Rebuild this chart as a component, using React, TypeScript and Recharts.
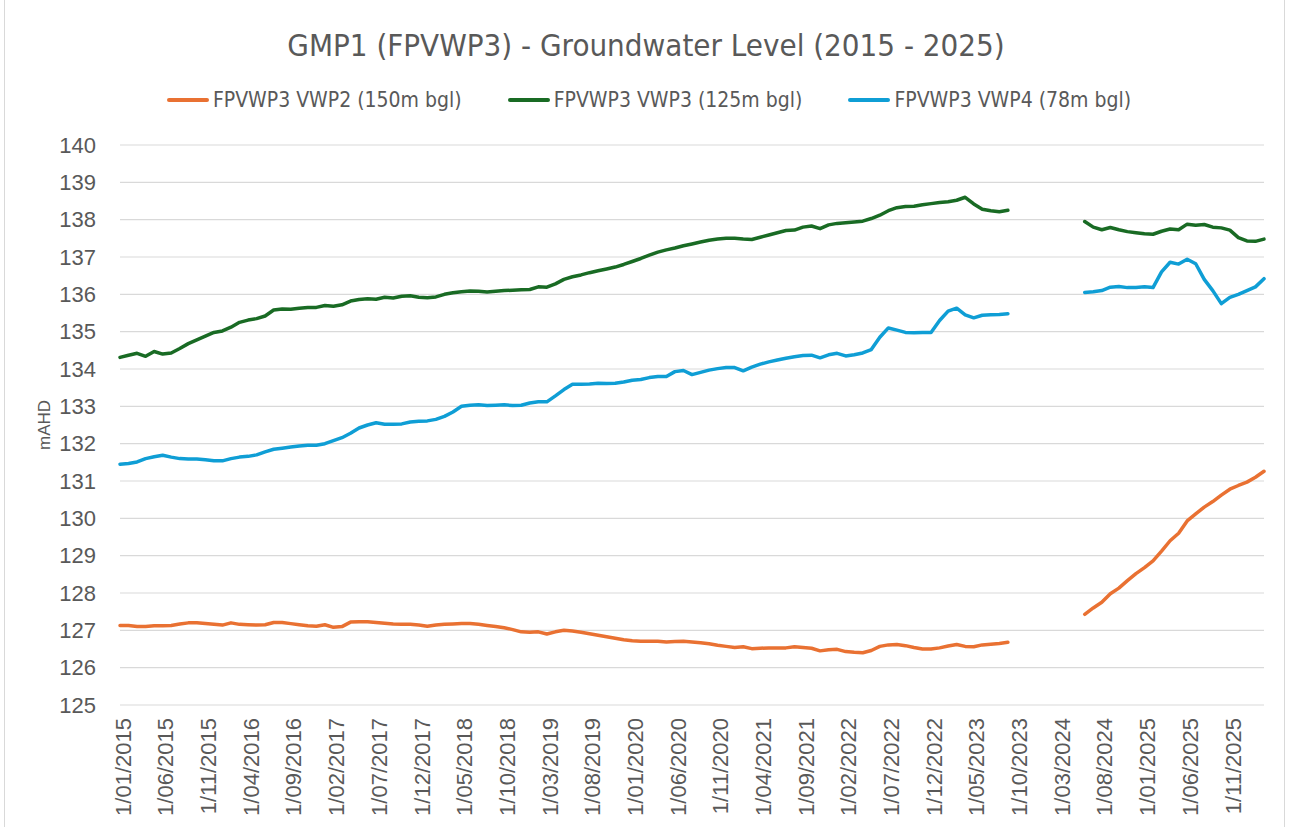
import { CartesianGrid, Line, LineChart, XAxis, YAxis } from "recharts";

// monthly readings, Jan 2015 .. Sep 2023 and Jun 2024 .. Mar 2026 (logger gap in between)
const START_YEAR = 2015;
const MONTH_COUNT = 135;
const LATE_START = 113;

const vwp2Early = [
  127.13, 127.13, 127.10, 127.10, 127.12, 127.12, 127.13, 127.17, 127.20, 127.20, 127.18, 127.16,
  127.14, 127.20, 127.16, 127.15, 127.14, 127.15, 127.21, 127.21, 127.18, 127.15, 127.12, 127.11,
  127.15, 127.08, 127.10, 127.22, 127.23, 127.23, 127.21, 127.19, 127.17, 127.16, 127.16, 127.14,
  127.11, 127.14, 127.16, 127.17, 127.18, 127.18, 127.16, 127.13, 127.10, 127.07, 127.02, 126.96,
  126.95, 126.96, 126.90, 126.96, 127.00, 126.98, 126.95, 126.91, 126.87, 126.83, 126.79, 126.75,
  126.72, 126.71, 126.71, 126.71, 126.69, 126.70, 126.71, 126.69, 126.67, 126.64, 126.60, 126.57,
  126.54, 126.56, 126.51, 126.52, 126.53, 126.53, 126.53, 126.56, 126.54, 126.52, 126.45, 126.48,
  126.49, 126.43, 126.41, 126.40, 126.46, 126.57, 126.61, 126.62, 126.59, 126.54, 126.50, 126.50,
  126.53, 126.58, 126.62, 126.57, 126.56, 126.61, 126.63, 126.65, 126.68,
];
const vwp2Late = [
  127.43, 127.60, 127.75, 127.98, 128.13, 128.33, 128.52, 128.68, 128.86, 129.12, 129.40,
  129.60, 129.93, 130.12, 130.30, 130.45, 130.62, 130.78, 130.88, 130.97, 131.10, 131.26,
];

const vwp3Early = [
  134.31, 134.37, 134.42, 134.34, 134.47, 134.40, 134.43, 134.55, 134.68, 134.78, 134.88, 134.98,
  135.02, 135.12, 135.25, 135.31, 135.35, 135.42, 135.58, 135.61, 135.60, 135.63, 135.65, 135.65,
  135.70, 135.68, 135.72, 135.82, 135.86, 135.88, 135.87, 135.92, 135.90, 135.95, 135.96, 135.92,
  135.91, 135.93, 136.00, 136.04, 136.07, 136.09, 136.08, 136.06, 136.08, 136.10, 136.11, 136.12,
  136.13, 136.20, 136.19, 136.28, 136.40, 136.47, 136.52, 136.58, 136.63, 136.68, 136.73, 136.80,
  136.88, 136.96, 137.05, 137.13, 137.19, 137.24, 137.30, 137.35, 137.40, 137.45, 137.48, 137.50,
  137.50, 137.48, 137.47, 137.53, 137.59, 137.65, 137.71, 137.72, 137.80, 137.83, 137.76, 137.86,
  137.90, 137.92, 137.94, 137.96, 138.03, 138.12, 138.24, 138.32, 138.35, 138.36, 138.40, 138.43,
  138.46, 138.48, 138.52, 138.60, 138.42, 138.28, 138.24, 138.21, 138.25,
];
const vwp3Late = [
  137.95, 137.80, 137.73, 137.79, 137.73, 137.68, 137.65, 137.62, 137.61, 137.69, 137.75,
  137.73, 137.88, 137.85, 137.87, 137.80, 137.78, 137.72, 137.52, 137.43, 137.42, 137.48,
];

const vwp4Early = [
  131.45, 131.47, 131.51, 131.60, 131.65, 131.69, 131.64, 131.60, 131.59, 131.59, 131.57, 131.54,
  131.54, 131.60, 131.64, 131.66, 131.70, 131.78, 131.85, 131.88, 131.91, 131.94, 131.96, 131.96,
  132.00, 132.08, 132.16, 132.28, 132.42, 132.50, 132.56, 132.52, 132.52, 132.53, 132.58, 132.60,
  132.61, 132.65, 132.73, 132.85, 133.00, 133.03, 133.04, 133.02, 133.03, 133.04, 133.02, 133.03,
  133.09, 133.12, 133.12, 133.28, 133.45, 133.59, 133.59, 133.60, 133.62, 133.61, 133.62, 133.65,
  133.70, 133.72, 133.77, 133.80, 133.80, 133.93, 133.96, 133.85, 133.91, 133.97, 134.01, 134.04,
  134.04, 133.95, 134.05, 134.13, 134.19, 134.24, 134.29, 134.33, 134.36, 134.37, 134.30, 134.38,
  134.42, 134.35, 134.38, 134.43, 134.52, 134.85, 135.10, 135.04, 134.98, 134.97, 134.98, 134.98,
  135.30, 135.55, 135.63, 135.45, 135.37, 135.44, 135.45, 135.46, 135.48,
];
const vwp4Late = [
  136.05, 136.07, 136.10, 136.19, 136.21, 136.18, 136.18, 136.20, 136.18, 136.60, 136.86,
  136.81, 136.94, 136.82, 136.40, 136.10, 135.75, 135.92, 136.00, 136.10, 136.20, 136.42,
];

const yTicks = [125, 126, 127, 128, 129, 130, 131, 132, 133, 134, 135, 136, 137, 138, 139, 140];

const series = [
  { key: "vwp2", name: "FPVWP3 VWP2 (150m bgl)", color: "#E97132", early: vwp2Early, late: vwp2Late },
  { key: "vwp3", name: "FPVWP3 VWP3 (125m bgl)", color: "#196B24", early: vwp3Early, late: vwp3Late },
  { key: "vwp4", name: "FPVWP3 VWP4 (78m bgl)", color: "#0F9ED5", early: vwp4Early, late: vwp4Late },
];

const months = Array.from({ length: MONTH_COUNT }, (_, i) => {
  const m = String((i % 12) + 1).padStart(2, "0");
  return `1/${m}/${START_YEAR + Math.floor(i / 12)}`;
});

function pick(early: number[], late: number[], i: number) {
  if (i < early.length) return early[i];
  if (i >= LATE_START && i - LATE_START < late.length) return late[i - LATE_START];
  return null;
}

const data = months.map((month, i) => {
  const row: Record<string, string | number | null> = { month };
  series.forEach((s) => (row[s.key] = pick(s.early, s.late, i)));
  return row;
});

const TEXT = "#595959";
const NARROW = '"Liberation Sans Narrow", "Arial Narrow", "DejaVu Sans Condensed", sans-serif';
const SANS = '"Liberation Sans", Arial, sans-serif';

function DateTick({ x, y, payload }: any) {
  return (
    <text
      transform={`translate(${x + 3},${y + 5}) rotate(-90)`}
      textAnchor="end"
      dy="0.35em"
      fill={TEXT}
      fontSize={22}
      fontFamily={SANS}
    >
      {payload.value}
    </text>
  );
}

export default function App() {
  return (
    <div
      style={{
        position: "absolute",
        left: 0,
        top: 0,
        width: 1290,
        height: 827,
        background: "#fff",
        overflow: "hidden",
      }}
    >
      <div
        style={{
          position: "absolute",
          left: 4,
          top: -2,
          width: 1281,
          height: 860,
          border: "1px solid #d9d9d9",
          boxSizing: "border-box",
        }}
      />
      <div
        style={{
          position: "absolute",
          top: 28,
          width: 1292,
          textAlign: "center",
          fontFamily: NARROW,
          fontSize: 31,
          lineHeight: "34px",
          color: TEXT,
        }}
      >
        GMP1 (FPVWP3) - Groundwater Level (2015 - 2025)
      </div>
      <div
        style={{
          position: "absolute",
          top: 88,
          left: 0,
          width: 1298,
          display: "flex",
          justifyContent: "center",
          gap: 46,
          fontFamily: NARROW,
          fontSize: 21,
          lineHeight: "24px",
          color: TEXT,
        }}
      >
        {series.map((s) => (
          <div key={s.key} style={{ display: "flex", alignItems: "center" }}>
            <span
              style={{
                display: "inline-block",
                width: 42,
                height: 4,
                borderRadius: 2,
                background: s.color,
                marginRight: 4,
              }}
            />
            {s.name}
          </div>
        ))}
      </div>
      <LineChart width={1290} height={827} data={data} margin={{ top: 145, right: 26, bottom: 0, left: 0 }}>
        <CartesianGrid vertical={false} stroke="#d9d9d9" strokeWidth={1.2} />
        <XAxis
          dataKey="month"
          interval={4}
          height={122}
          axisLine={false}
          tickLine={false}
          tick={<DateTick />}
        />
        <YAxis
          domain={[125, 140]}
          ticks={yTicks}
          interval={0}
          width={120}
          axisLine={false}
          tickLine={false}
          tickMargin={18}
          tick={{ fill: TEXT, fontSize: 22, fontFamily: SANS }}
          label={{
            value: "mAHD",
            angle: -90,
            position: "insideLeft",
            offset: 44,
            style: { textAnchor: "middle", fill: TEXT, fontSize: 17, fontFamily: SANS },
          }}
        />
        {series.map((s) => (
          <Line
            key={s.key}
            type="linear"
            dataKey={s.key}
            name={s.name}
            stroke={s.color}
            strokeWidth={3.5}
            strokeLinecap="round"
            strokeLinejoin="round"
            dot={false}
            activeDot={false}
            isAnimationActive={false}
          />
        ))}
      </LineChart>
    </div>
  );
}
